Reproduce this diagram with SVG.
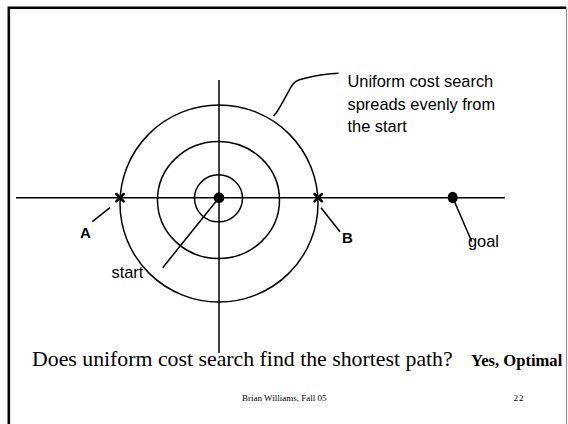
<svg xmlns="http://www.w3.org/2000/svg" width="568" height="424" viewBox="0 0 568 424">
  <style>
    .ln { fill: none; stroke: #000; stroke-width: 1.5; }
    .mk { fill: none; stroke: #000; stroke-width: 2.5; stroke-linecap: round; }
    .lbl { font-family: "Liberation Sans", Arial, sans-serif; font-size: 16.4px; fill: #000; }
    .bl { font-family: "Liberation Sans", Arial, sans-serif; font-size: 15px; font-weight: bold; fill: #000; }
    .ser { font-family: "Liberation Serif", "Times New Roman", serif; fill: #000; }
  </style>
  <rect width="568" height="424" fill="#fff"/>

  <!-- slide frame -->
  <g id="frame">
    <path d="M8.8,424 V7.8 H566" fill="none" stroke="#000" stroke-width="2.6"/>
    <line x1="566.6" y1="7" x2="566.6" y2="424" stroke="#888" stroke-width="1"/>
  </g>

  <!-- axes and cost contours -->
  <g id="axes">
    <line class="ln" x1="16" y1="197.7" x2="505" y2="197.7"/>
    <line class="ln" x1="219" y1="80" x2="219" y2="353"/>
  </g>
  <g id="contours">
    <ellipse class="ln" cx="219" cy="203.5" rx="99" ry="98.5"/>
    <ellipse class="ln" cx="218.5" cy="200" rx="61" ry="58.5"/>
    <ellipse class="ln" cx="218.5" cy="198.3" rx="24" ry="23.5"/>
  </g>

  <!-- nodes -->
  <g id="start">
    <circle cx="219" cy="197.7" r="5.4" fill="#000"/>
    <text class="lbl" x="111.5" y="278.3">start</text>
  </g>
  <g id="nodeA">
    <path class="mk" d="M116.3,194 L123.7,201.4 M123.7,194 L116.3,201.4"/>
    <text class="bl" x="80" y="238.3">A</text>
  </g>
  <g id="nodeB">
    <path class="mk" d="M314.5,194 L321.9,201.4 M321.9,194 L314.5,201.4"/>
    <text class="bl" x="342" y="243.3">B</text>
  </g>
  <g id="goal">
    <ellipse cx="452.7" cy="197.5" rx="5" ry="5.8" fill="#000"/>
    <text class="lbl" x="468" y="246.7">goal</text>
  </g>
  <g id="note">
    <text class="lbl" x="347.5" y="87.3">Uniform cost search</text>
    <text class="lbl" x="347.5" y="109.5">spreads evenly from</text>
    <text class="lbl" x="347.5" y="131.7">the start</text>
  </g>

  <!-- leader lines -->
  <g id="connectors">
    <line class="ln" x1="219" y1="197.7" x2="162.7" y2="267.7"/>
    <line class="ln" x1="110" y1="207.7" x2="92.3" y2="221.7"/>
    <line class="ln" x1="321" y1="207.7" x2="340" y2="231.7"/>
    <line class="ln" x1="452.7" y1="197.5" x2="471.7" y2="241.5"/>
    <path class="ln" d="M273.5,116 L276.5,112.5 C282,104 286,96 291,87 C294,82 297,80 304,78.5 C316,75.5 328,73.5 338.5,73.3"/>
  </g>

  <!-- question and footer -->
  <g id="caption">
    <text class="ser" x="32" y="366" font-size="21.8">Does uniform cost search find the shortest path?</text>
    <text class="ser" x="471" y="366" font-size="16.6" font-weight="bold">Yes, Optimal</text>
    <text class="ser" x="242" y="401" font-size="9">Brian Williams, Fall  05</text>
    <text class="ser" x="513.5" y="401" font-size="9" letter-spacing="1">22</text>
  </g>
</svg>
